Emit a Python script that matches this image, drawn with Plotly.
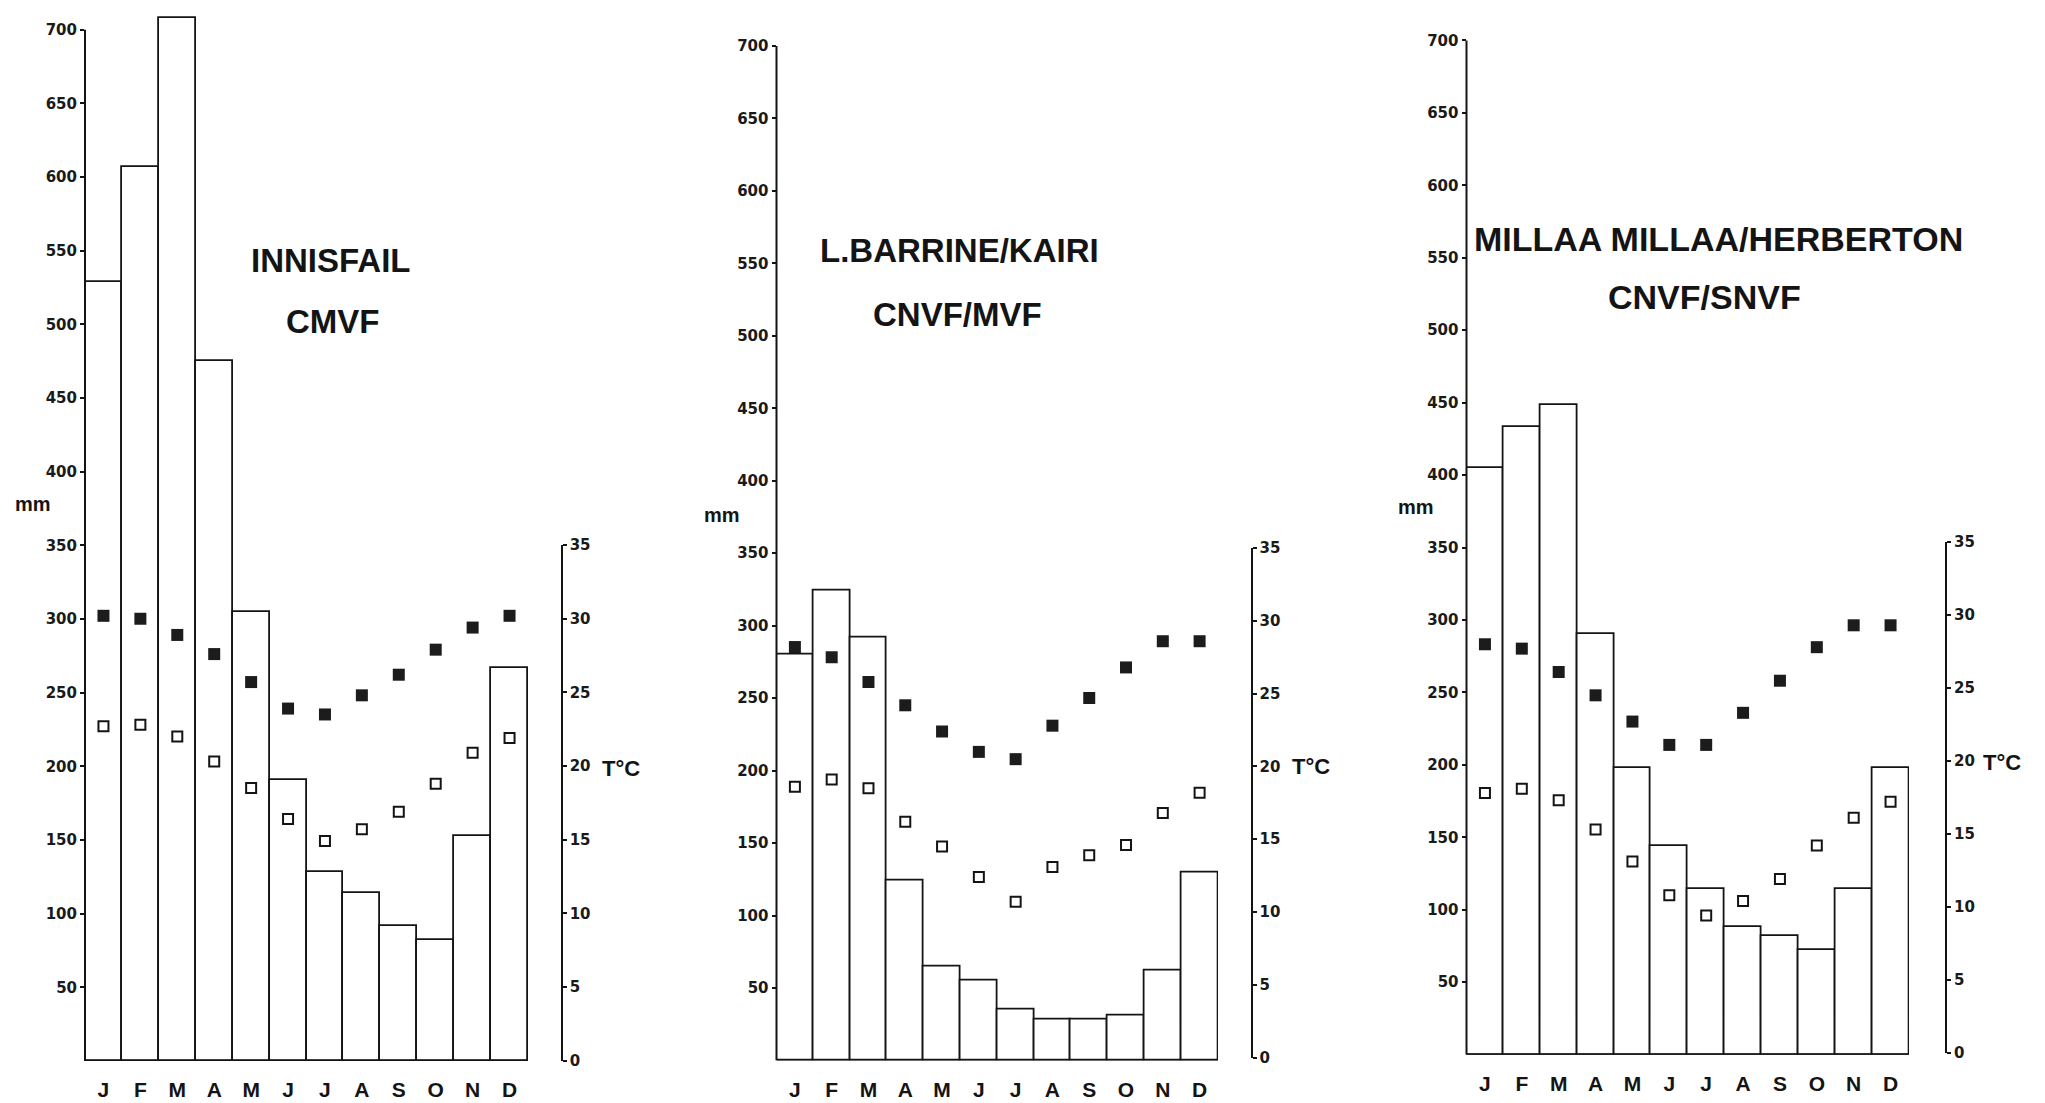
import plotly.graph_objects as go

W, H = 2045, 1103

months = ["J", "F", "M", "A", "M", "J", "J", "A", "S", "O", "N", "D"]

# Panel 1: Innisfail
innisfail_title = ["INNISFAIL", "CMVF"]
innisfail_rain = [529, 607, 708, 475, 305, 191, 128, 114, 92, 82, 153, 267]
innisfail_tmax = [30.2, 30.0, 28.9, 27.6, 25.7, 23.9, 23.5, 24.8, 26.2, 27.9, 29.4, 30.2]
innisfail_tmin = [22.7, 22.8, 22.0, 20.3, 18.5, 16.4, 14.9, 15.7, 16.9, 18.8, 20.9, 21.9]

# Panel 2: L. Barrine / Kairi
barrine_title = ["L.BARRINE/KAIRI", "CNVF/MVF"]
barrine_rain = [280, 324, 292, 124, 65, 55, 35, 28, 28, 31, 62, 130]
barrine_tmax = [28.2, 27.5, 25.8, 24.2, 22.4, 21.0, 20.5, 22.8, 24.7, 26.8, 28.6, 28.6]
barrine_tmin = [18.6, 19.1, 18.5, 16.2, 14.5, 12.4, 10.7, 13.1, 13.9, 14.6, 16.8, 18.2]

# Panel 3: Millaa Millaa / Herberton
millaa_title = ["MILLAA MILLAA/HERBERTON", "CNVF/SNVF"]
millaa_rain = [405, 433, 448, 290, 198, 144, 114, 88, 82, 72, 114, 198]
millaa_tmax = [28.0, 27.7, 26.1, 24.5, 22.7, 21.1, 21.1, 23.3, 25.5, 27.8, 29.3, 29.3]
millaa_tmin = [17.8, 18.1, 17.3, 15.3, 13.1, 10.8, 9.4, 10.4, 11.9, 14.2, 16.1, 17.2]

mm_ticks = list(range(50, 701, 50))
t_ticks = list(range(0, 36, 5))

INK = "#141414"

panels = [
    dict(title=innisfail_title, rain=innisfail_rain, tmax=innisfail_tmax, tmin=innisfail_tmin,
         bar_l=85, bar_r=528, y0=1069.5, y700=21, t0=1069, t35=545, temp_x=561.7,
         mm_lab=(33, 503), tc_lab=(621, 772), t1=(331, 256), t2=(333, 318), tsize=33),
    dict(title=barrine_title, rain=barrine_rain, tmax=barrine_tmax, tmin=barrine_tmin,
         bar_l=776.5, bar_r=1218, y0=1069, y700=37.5, t0=1066, t35=548, temp_x=1251.6,
         mm_lab=(722, 514), tc_lab=(1311, 770), t1=(959, 246), t2=(957, 311), tsize=33),
    dict(title=millaa_title, rain=millaa_rain, tmax=millaa_tmax, tmin=millaa_tmin,
         bar_l=1466.5, bar_r=1909, y0=1063, y700=32, t0=1061, t35=542, temp_x=1946,
         mm_lab=(1416, 506), tc_lab=(2002, 766), t1=(1718, 234), t2=(1704, 293), tsize=34),
]

fig = go.Figure()
layout = dict(
    width=W, height=H, margin=dict(l=0, r=0, t=0, b=0),
    paper_bgcolor="white", plot_bgcolor="rgba(0,0,0,0)",
    showlegend=False, bargap=0,
)
annotations = []
shapes = []
YMAX = 712

for k, p in enumerate(panels):
    xid = "x" if k == 0 else f"x{k+1}"
    ymm = "y" if k == 0 else f"y{2*k+1}"
    ytp = f"y{2*k+2}"
    xkey = "xaxis" if k == 0 else f"xaxis{k+1}"
    ymmkey = "yaxis" if k == 0 else f"yaxis{2*k+1}"
    ytpkey = f"yaxis{2*k+2}"

    xs = list(range(12))
    fig.add_trace(go.Bar(
        x=xs, y=p["rain"], xaxis=xid, yaxis=ymm, width=1.0,
        marker=dict(color="white", line=dict(color=INK, width=1.8)),
        hoverinfo="skip",
    ))
    fig.add_trace(go.Scatter(
        x=xs, y=p["tmax"], xaxis=xid, yaxis=ytp, mode="markers",
        marker=dict(symbol="square", size=12, color="#1c1c1c", line=dict(width=0)),
        cliponaxis=False,
    ))
    fig.add_trace(go.Scatter(
        x=xs, y=p["tmin"], xaxis=xid, yaxis=ytp, mode="markers",
        marker=dict(symbol="square-open", size=10, color=INK, line=dict(width=2, color=INK)),
        cliponaxis=False,
    ))

    ppm = (p["y0"] - p["y700"]) / 700.0
    ytop_px = p["y0"] - YMAX * ppm
    layout[xkey] = dict(
        domain=[p["bar_l"] / W, p["bar_r"] / W], range=[-0.5, 11.5],
        anchor=ymm, tickmode="array", tickvals=xs, ticktext=months,
        showline=False, ticks="",
        ticklabelstandoff=14,
        tickfont=dict(family="Liberation Sans", size=21, color=INK, weight="bold"),
        showgrid=False, zeroline=False, fixedrange=True,
    )
    layout[ymmkey] = dict(
        domain=[(H - p["y0"]) / H, min(1.0, (H - ytop_px) / H)], range=[0, YMAX],
        anchor=xid, tickmode="array", tickvals=mm_ticks,
        ticks="outside", ticklen=4, tickwidth=1.5, tickcolor=INK,
        showline=False, showgrid=False, zeroline=False,
        tickfont=dict(family="DejaVu Sans", size=15, color="#1a1a1a", weight="bold"),
    )
    layout[ytpkey] = dict(
        domain=[(H - p["t0"]) / H, (H - p["t35"]) / H], range=[0, 35],
        anchor="free", position=p["temp_x"] / W, side="right",
        tickmode="array", tickvals=t_ticks,
        ticks="outside", ticklen=4, tickwidth=1.5, tickcolor=INK,
        showline=True, linewidth=2, linecolor=INK,
        showgrid=False, zeroline=False,
        tickfont=dict(family="DejaVu Sans", size=15, color="#1a1a1a", weight="bold"),
    )
    # mm axis line from 0 to 700
    shapes.append(dict(type="line", xref="paper", yref=ymm,
                       x0=p["bar_l"] / W, x1=p["bar_l"] / W, y0=0, y1=700,
                       line=dict(color=INK, width=2)))
    # baseline under the bars
    shapes.append(dict(type="line", xref=xid, yref=ymm,
                       x0=-0.5, x1=11.5, y0=0, y1=0,
                       line=dict(color=INK, width=2.5)))

    annotations += [
        dict(text=p["title"][0], x=p["t1"][0] / W, y=1 - p["t1"][1] / H, xref="paper", yref="paper",
             showarrow=False, xanchor="center", yanchor="middle",
             font=dict(family="Liberation Sans", size=p["tsize"], color=INK, weight="bold")),
        dict(text=p["title"][1], x=p["t2"][0] / W, y=1 - p["t2"][1] / H, xref="paper", yref="paper",
             showarrow=False, xanchor="center", yanchor="middle",
             font=dict(family="Liberation Sans", size=p["tsize"], color=INK, weight="bold")),
        dict(text="mm", x=p["mm_lab"][0] / W, y=1 - p["mm_lab"][1] / H, xref="paper", yref="paper",
             showarrow=False, xanchor="center", yanchor="middle",
             font=dict(family="Liberation Sans", size=20, color=INK, weight="bold")),
        dict(text="T°C", x=p["tc_lab"][0] / W, y=1 - p["tc_lab"][1] / H, xref="paper", yref="paper",
             showarrow=False, xanchor="center", yanchor="middle",
             font=dict(family="Liberation Sans", size=22, color=INK, weight="bold")),
    ]

layout["annotations"] = annotations
layout["shapes"] = shapes
fig.update_layout(**layout)
fig.write_html("out.html")
